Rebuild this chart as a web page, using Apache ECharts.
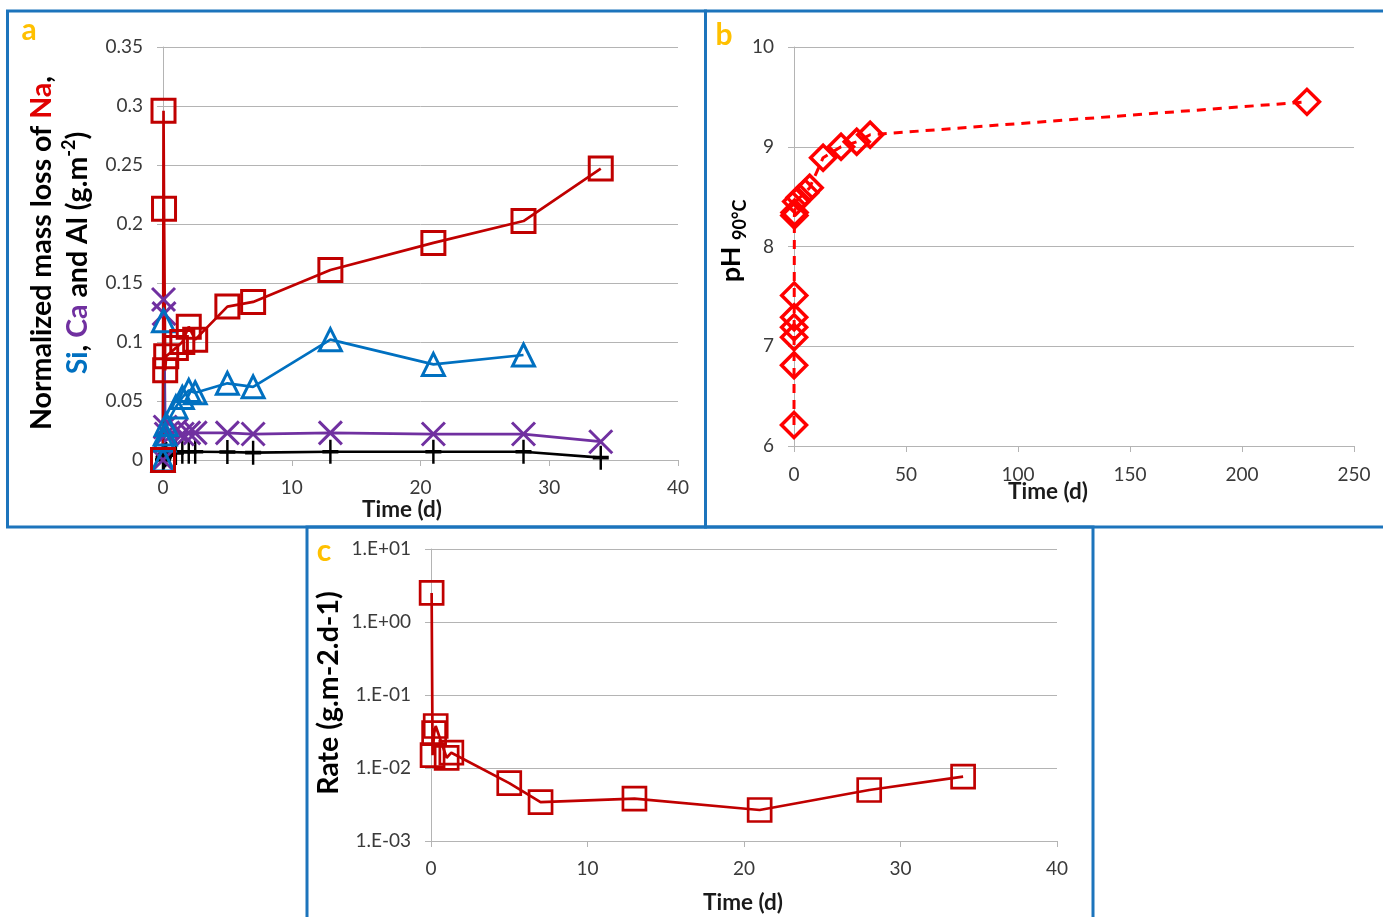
<!DOCTYPE html>
<html><head><meta charset="utf-8">
<script src="https://cdn.jsdelivr.net/npm/echarts@6/dist/echarts.min.js"></script>
<style>html,body{margin:0;padding:0;background:#fff}#c{width:1383px;height:917px}</style>
</head><body><div id="c"></div>
<script>
// ---- Panel a: normalized mass loss (g.m-2) vs time (d)
const timeA = [0, 0.04, 0.08, 0.17, 0.25, 1, 1.5, 2, 2.5, 5, 7, 13, 21, 28, 34];
const naVals = [0, 0.296, 0.213, 0.076, 0.088, 0.095, 0.1, 0.113, 0.102, 0.13, 0.134, 0.161, 0.184, 0.2025, 0.247];
const timeSi = [0, 0.04, 0.08, 0.17, 0.25, 1, 1.5, 2, 2.5, 5, 7, 13, 21, 28];
const siVals = [0, 0.118, 0.017, 0.022, 0.03, 0.045, 0.053, 0.059, 0.057, 0.065, 0.062, 0.102, 0.081, 0.089];
const caVals = [0, 0.136, 0.124, 0.028, 0.022, 0.025, 0.022, 0.023, 0.023, 0.023, 0.022, 0.023, 0.022, 0.022, 0.0155];
const alVals = [0, 0.002, 0.003, 0.004, 0.005, 0.006, 0.007, 0.007, 0.007, 0.0068, 0.0062, 0.007, 0.007, 0.007, 0.002];
const ticksA_y = [0, 0.35, 0.05];
const ticksA_x = [0, 40, 10];

// ---- Panel b: pH at 90°C vs time (d)
const timeB = [0, 0.02, 0.04, 0.06, 0.08, 0.1, 0.17, 0.25, 1, 2.5, 5, 7, 13, 21, 28, 34, 229];
const phVals = [6.21, 6.81, 7.09, 7.19, 7.29, 7.51, 8.31, 8.34, 8.45, 8.49, 8.54, 8.59, 8.89, 9.0, 9.05, 9.12, 9.45];
const ticksB_y = [6, 10, 1];
const ticksB_x = [0, 250, 50];

// ---- Panel c: rate (g.m-2.d-1) vs time (d)
const timeC = [0.04, 0.1, 0.2, 0.3, 1, 1.3, 5, 7, 13, 21, 28, 34];
const rateVals = [2.5, 0.015, 0.03, 0.0376, 0.0138, 0.0162, 0.0062, 0.0034, 0.0038, 0.00266, 0.005, 0.0076];
const ticksC_y = [0.001, 10];
const ticksC_x = [0, 40, 10];

const zip = (xs, ys) => xs.map((x, i) => [x, ys[i]]);

const FONT = 'Lato';
const LBL = {color: '#3a3a3a', fontFamily: FONT, fontSize: 19};
const GRIDC = '#B4B4B4';
const BORDER = '#1C74BC';

function xAx(grid, t, margin) {
  return {type: 'value', gridIndex: grid, min: t[0], max: t[1], interval: t[2],
    axisLine: {show: true, onZero: false, lineStyle: {color: GRIDC, width: 1}},
    axisTick: {show: true, length: 6, lineStyle: {color: GRIDC}},
    splitLine: {show: false},
    axisLabel: Object.assign({margin: margin}, LBL)};
}
function yAx(grid, t, margin, extra) {
  return Object.assign({type: 'value', gridIndex: grid, min: t[0], max: t[1], interval: t[2],
    axisLine: {show: true, lineStyle: {color: GRIDC, width: 1}},
    axisTick: {show: true, length: 6, lineStyle: {color: GRIDC}},
    splitLine: {show: true, lineStyle: {color: GRIDC, width: 1}},
    axisLabel: Object.assign({margin: margin}, LBL)}, extra || {});
}
function hollow(name, xi, data, sym, size, color, lw, dash) {
  return {name: name, type: 'line', xAxisIndex: xi, yAxisIndex: xi, data: data,
    symbol: sym, symbolSize: size, showAllSymbol: true, clip: false,
    itemStyle: {color: 'rgba(0,0,0,0)', borderColor: color, borderWidth: lw},
    lineStyle: {color: color, width: dash ? 3 : 2.7, type: dash || 'solid'},
    emphasis: {disabled: true}, animation: false};
}

const X_PATH = 'path://M0,0L10,10M0,10L10,0';
const PLUS_PATH = 'path://M5,0L5,14M0,7L10,7';

const chart = echarts.init(document.getElementById('c'), null, {renderer: 'canvas'});
chart.setOption({
  backgroundColor: '#fff',
  animation: false,
  grid: [
    {left: 163, top: 47, width: 515, height: 413},
    {left: 794, top: 47, width: 560, height: 399},
    {left: 431, top: 549, width: 626, height: 292}
  ],
  xAxis: [xAx(0, ticksA_x, 18), xAx(1, ticksB_x, 19), xAx(2, ticksC_x, 18)],
  yAxis: [
    yAx(0, ticksA_y, 20),
    yAx(1, ticksB_y, 20),
    {type: 'log', gridIndex: 2, logBase: 10, min: ticksC_y[0], max: ticksC_y[1],
     axisLine: {show: true, lineStyle: {color: GRIDC, width: 1}},
     axisTick: {show: true, length: 6, lineStyle: {color: GRIDC}},
     splitLine: {show: true, lineStyle: {color: GRIDC, width: 1}},
     minorTick: {show: false},
     axisLabel: Object.assign({margin: 20, formatter: function (v) {
       const e = Math.round(Math.log10(v));
       const a = Math.abs(e);
       return '1.E' + (e < 0 ? '-' : '+') + (a < 10 ? '0' + a : a);
     }}, LBL)}
  ],
  series: [
    hollow('Al', 0, zip(timeA, alVals), PLUS_PATH, [16, 24], '#000000', 3),
    hollow('Ca', 0, zip(timeA, caVals), X_PATH, 23, '#7030A0', 3),
    hollow('Si', 0, zip(timeSi, siVals), 'triangle', 22, '#0070C0', 3),
    hollow('Na', 0, zip(timeA, naVals), 'rect', 23, '#C00000', 3),
    hollow('pH', 1, zip(timeB, phVals), 'diamond', 25, '#FF0000', 3.5, [9, 7]),
    hollow('Rate', 2, zip(timeC, rateVals), 'rect', 23, '#C00000', 2.7)
  ],
  graphic: [
    {type: 'rect', shape: {x: 7.5, y: 11, width: 698, height: 516}, style: {fill: 'none', stroke: BORDER, lineWidth: 3}, z: 100},
    {type: 'rect', shape: {x: 705.5, y: 11, width: 690, height: 516}, style: {fill: 'none', stroke: BORDER, lineWidth: 3}, z: 100},
    {type: 'rect', shape: {x: 307, y: 527, width: 786, height: 410}, style: {fill: 'none', stroke: BORDER, lineWidth: 3}, z: 100},
    {type: 'text', x: 29, y: 30, style: {text: 'a', font: 'bold 30px ' + FONT, fill: '#FFC000', align: 'center', verticalAlign: 'middle', shadowColor: 'rgba(0,0,0,0.4)', shadowBlur: 2, shadowOffsetX: 1.5, shadowOffsetY: 1.5}, z: 100},
    {type: 'text', x: 724, y: 35, style: {text: 'b', font: 'bold 30px ' + FONT, fill: '#FFC000', align: 'center', verticalAlign: 'middle', shadowColor: 'rgba(0,0,0,0.4)', shadowBlur: 2, shadowOffsetX: 1.5, shadowOffsetY: 1.5}, z: 100},
    {type: 'text', x: 324, y: 551, style: {text: 'c', font: 'bold 30px ' + FONT, fill: '#FFC000', align: 'center', verticalAlign: 'middle', shadowColor: 'rgba(0,0,0,0.4)', shadowBlur: 2, shadowOffsetX: 1.5, shadowOffsetY: 1.5}, z: 100},
    // axis titles
    {type: 'text', x: 402, y: 510, style: {text: 'Time (d)', font: 'bold 22.5px ' + FONT, fill: '#1a1a1a', align: 'center', verticalAlign: 'middle'}},
    {type: 'text', x: 1048, y: 492, style: {text: 'Time (d)', font: 'bold 22.5px ' + FONT, fill: '#1a1a1a', align: 'center', verticalAlign: 'middle'}},
    {type: 'text', x: 743, y: 903, style: {text: 'Time (d)', font: 'bold 22.5px ' + FONT, fill: '#1a1a1a', align: 'center', verticalAlign: 'middle'}},
    {type: 'text', x: 60, y: 253, rotation: Math.PI / 2, style: {
      text: '{k|Normalized mass loss of }{r|Na}{k|,}\n{b|Si}{k|, }{p|Ca}{k| and Al (g.m}{s|-2}{k|)}',
      align: 'center', verticalAlign: 'middle',
      rich: {
        k: {fontFamily: FONT, fontWeight: 'bold', fontSize: 28.5, fill: '#000', lineHeight: 36},
        r: {fontFamily: FONT, fontWeight: 'bold', fontSize: 28.5, fill: '#E00000', lineHeight: 36},
        b: {fontFamily: FONT, fontWeight: 'bold', fontSize: 28.5, fill: '#0070C0', lineHeight: 36},
        p: {fontFamily: FONT, fontWeight: 'bold', fontSize: 28.5, fill: '#7030A0', lineHeight: 36},
        s: {fontFamily: FONT, fontWeight: 'bold', fontSize: 18, fill: '#000', lineHeight: 18, verticalAlign: 'top'}
      }}},
    {type: 'text', x: 731, y: 241, rotation: Math.PI / 2, style: {
      text: '{k|pH }{s|90°C}',
      align: 'center', verticalAlign: 'middle',
      rich: {
        k: {fontFamily: FONT, fontWeight: 'bold', fontSize: 27, fill: '#000', lineHeight: 36},
        s: {fontFamily: FONT, fontWeight: 'bold', fontSize: 18, fill: '#000', lineHeight: 18, verticalAlign: 'bottom'}
      }}},
    {type: 'text', x: 329, y: 693, rotation: Math.PI / 2, style: {
      text: 'Rate (g.m-2.d-1)', font: 'bold 28.5px ' + FONT, fill: '#000', align: 'center', verticalAlign: 'middle'}}
  ]
});
</script>
</body></html>
